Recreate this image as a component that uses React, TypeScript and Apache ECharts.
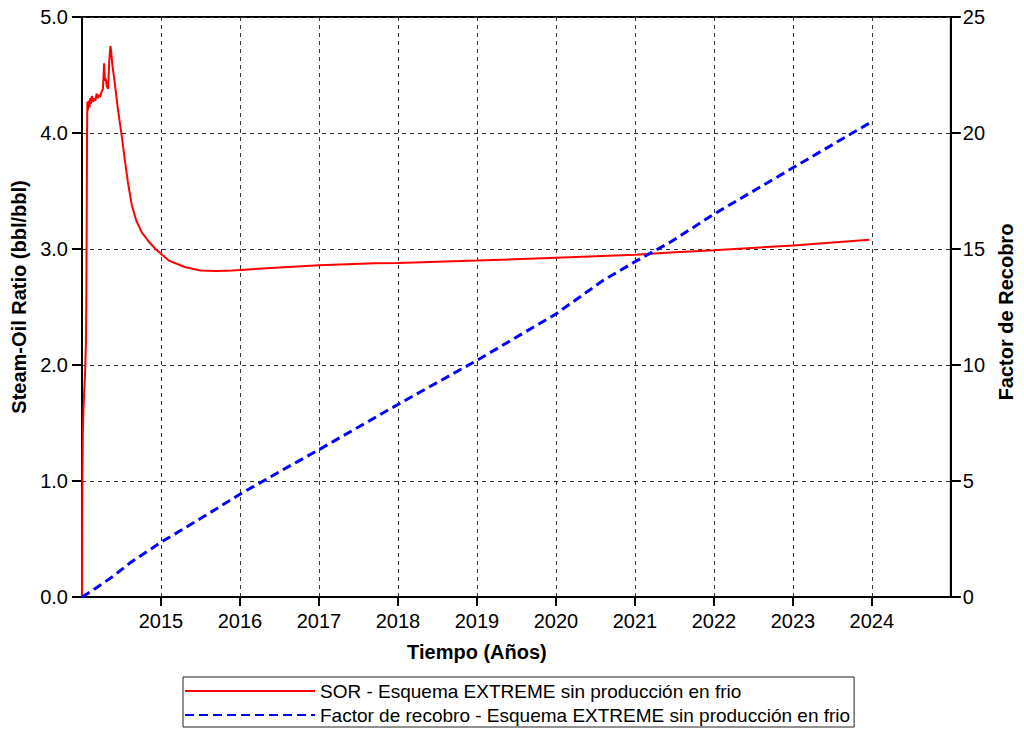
import React, { useEffect, useRef } from "react";
import * as echarts from "echarts";

// Time in decimal years
const sorYears = [
  2014.0, 2014.002, 2014.005, 2014.01, 2014.02, 2014.03, 2014.04, 2014.05, 2014.055, 2014.06,
  2014.064, 2014.068, 2014.075, 2014.085, 2014.095, 2014.105, 2014.115, 2014.125, 2014.14,
  2014.155, 2014.17, 2014.185, 2014.2, 2014.215, 2014.23, 2014.245, 2014.265, 2014.28,
  2014.29, 2014.3, 2014.315, 2014.33, 2014.345, 2014.36, 2014.37, 2014.385, 2014.41,
  2014.45, 2014.51, 2014.54, 2014.58, 2014.63, 2014.69, 2014.76, 2014.85, 2014.93, 2015.1, 2015.3,
  2015.5, 2015.7, 2015.9, 2016.0, 2016.5, 2017.0, 2017.7, 2018.0, 2019.0, 2020.0, 2021.0, 2021.45,
  2022.0, 2023.0, 2023.97,
];
const sorValues = [
  0, 0.6, 1.0, 1.4, 1.65, 1.8, 1.95, 2.2, 2.6, 3.3,
  4.0, 4.27, 4.2, 4.28, 4.22, 4.3, 4.25, 4.32, 4.27,
  4.3, 4.28, 4.34, 4.3, 4.33, 4.31, 4.35, 4.38, 4.6,
  4.45, 4.47, 4.4, 4.38, 4.62, 4.75, 4.7, 4.58, 4.46,
  4.23, 3.94, 3.78, 3.58, 3.38, 3.24, 3.14, 3.06, 3.0, 2.9, 2.845,
  2.815, 2.81, 2.815, 2.82, 2.84, 2.86, 2.877, 2.88, 2.9, 2.925, 2.95, 2.97,
  2.99, 3.03, 3.08,
];

const frYears = [
  2014.0, 2014.14, 2014.39, 2014.6, 2015.0, 2015.5, 2016.0, 2016.5, 2017.0, 2018.0,
  2019.0, 2020.0, 2020.6, 2021.0, 2021.45, 2022.0, 2023.0, 2023.97,
];
const frValues = [
  0, 0.3, 0.88, 1.45, 2.36, 3.38, 4.43, 5.4, 6.35, 8.3,
  10.2, 12.2, 13.65, 14.45, 15.3, 16.5, 18.5, 20.43,
];

const seriesNames = [
  "SOR - Esquema EXTREME sin producción en frio",
  "Factor de recobro - Esquema EXTREME sin producción en frio",
];

const FONT = "'Liberation Sans', Arial, sans-serif";

export default function App() {
  const ref = useRef<HTMLDivElement>(null);
  useEffect(() => {
    if (!ref.current) return;
    const chart = echarts.init(ref.current, null, { renderer: "svg" });
    const sorData = sorYears.map((y, i) => [y, sorValues[i]]);
    const frData = frYears.map((y, i) => [y, frValues[i]]);
    chart.setOption({
      animation: false,
      textStyle: { fontFamily: FONT, color: "#000" },
      grid: {
        left: 82,
        right: 62,
        top: 17,
        bottom: 133,
        show: true,
        borderColor: "#000",
        borderWidth: 2,
        containLabel: false,
      },
      legend: {
        orient: "vertical",
        left: 183,
        top: 677,
        padding: [4, 4, 2, 1],
        itemWidth: 130,
        itemHeight: 14,
        itemGap: 4,
        borderColor: "#222",
        borderWidth: 1,
        itemStyle: { opacity: 0, borderWidth: 0 },
        textStyle: { fontFamily: FONT, fontSize: 19, color: "#000", lineHeight: 20 },
        data: seriesNames,
      },
      xAxis: {
        type: "value",
        min: 2014,
        max: 2025,
        interval: 1,
        name: "Tiempo (Años)",
        nameLocation: "middle",
        nameGap: 45,
        nameTextStyle: {
          fontFamily: FONT,
          fontSize: 20,
          fontWeight: "bold",
          color: "#000",
          padding: [0, 79, 0, 0],
        },
        axisLine: { lineStyle: { color: "#000", width: 2 } },
        axisTick: { show: true, length: 9, lineStyle: { color: "#000", width: 2 } },
        axisLabel: {
          fontFamily: FONT,
          fontSize: 20,
          color: "#000",
          margin: 14,
          showMinLabel: false,
          showMaxLabel: false,
          formatter: (v: number) => String(Math.round(v)),
        },
        splitLine: {
          show: true,
          lineStyle: { color: "#333", width: 1, type: [4, 4] },
        },
      },
      yAxis: [
        {
          type: "value",
          min: 0,
          max: 5,
          interval: 1,
          position: "left",
          name: "Steam-Oil Ratio (bbl/bbl)",
          nameLocation: "middle",
          nameRotate: 90,
          nameGap: 46,
          nameTextStyle: {
            fontFamily: FONT,
            fontSize: 20,
            fontWeight: "bold",
            color: "#000",
            padding: [0, 0, 0, 20],
          },
          axisLine: { show: true, lineStyle: { color: "#000", width: 2 } },
          axisTick: { show: true, length: 10, lineStyle: { color: "#000", width: 2 } },
          axisLabel: {
            fontFamily: FONT,
            fontSize: 20,
            color: "#000",
            margin: 14,
            formatter: (v: number) => v.toFixed(1),
          },
          splitLine: {
            show: true,
            lineStyle: { color: "#333", width: 1, type: [4, 4] },
          },
        },
        {
          type: "value",
          min: 0,
          max: 25,
          interval: 5,
          position: "right",
          name: "Factor de Recobro",
          nameLocation: "middle",
          nameRotate: 90,
          nameGap: 44,
          nameTextStyle: {
            fontFamily: FONT,
            fontSize: 20,
            fontWeight: "bold",
            color: "#000",
            padding: [0, 10, 0, 0],
          },
          axisLine: { show: true, lineStyle: { color: "#000", width: 2 } },
          axisTick: { show: true, length: 10, lineStyle: { color: "#000", width: 2 } },
          axisLabel: {
            fontFamily: FONT,
            fontSize: 20,
            color: "#000",
            margin: 12,
          },
          splitLine: { show: false },
        },
      ],
      series: [
        {
          name: seriesNames[0],
          type: "line",
          yAxisIndex: 0,
          data: sorData,
          symbol: "none",
          lineStyle: { color: "#ff0000", width: 2 },
          itemStyle: { color: "#ff0000" },
        },
        {
          name: seriesNames[1],
          type: "line",
          yAxisIndex: 1,
          data: frData,
          symbol: "none",
          lineStyle: { color: "#0000ff", width: 3, type: [9, 5] },
          itemStyle: { color: "#0000ff" },
        },
      ],
    });
    return () => chart.dispose();
  }, []);
  return (
    <div
      ref={ref}
      style={{ position: "absolute", left: 0, top: 0, width: 1024, height: 730, background: "#fff" }}
    />
  );
}
